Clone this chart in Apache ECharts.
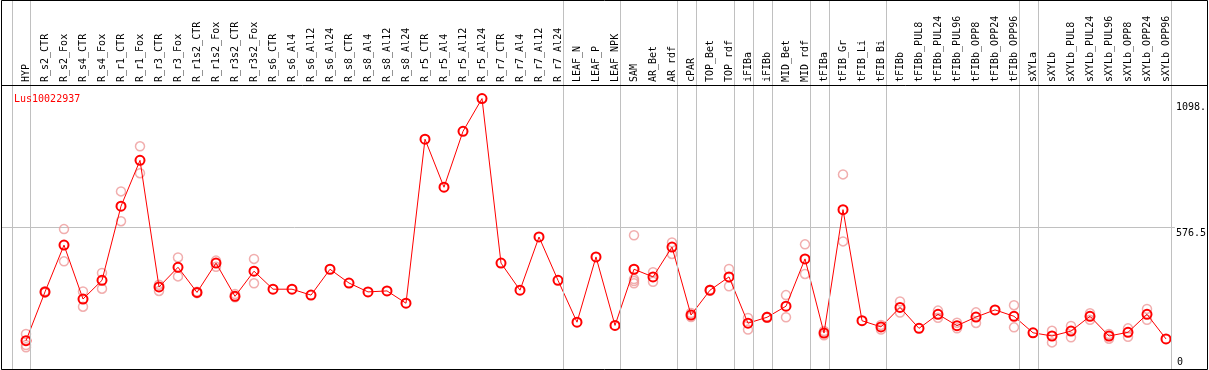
<!DOCTYPE html>
<html>
<head>
<meta charset="utf-8">
<script src="https://cdn.jsdelivr.net/npm/echarts@6/dist/echarts.min.js"></script>
<style>
html,body{margin:0;padding:0;background:#fff;}
#chart{width:1209px;height:370px;}
</style>
</head>
<body>
<div id="chart"></div>
<script>
const geneId = 'Lus10022937';
const categories = ['HYP','R_s2_CTR','R_s2_Fox','R_s4_CTR','R_s4_Fox','R_r1_CTR','R_r1_Fox','R_r3_CTR','R_r3_Fox','R_r1s2_CTR','R_r1s2_Fox','R_r3s2_CTR','R_r3s2_Fox','R_s6_CTR','R_s6_Al4','R_s6_Al12','R_s6_Al24','R_s8_CTR','R_s8_Al4','R_s8_Al12','R_s8_Al24','R_r5_CTR','R_r5_Al4','R_r5_Al12','R_r5_Al24','R_r7_CTR','R_r7_Al4','R_r7_Al12','R_r7_Al24','LEAF_N','LEAF_P','LEAF_NPK','SAM','AR_Bet','AR_rdf','cPAR','TOP_Bet','TOP_rdf','iFIBa','iFIBb','MID_Bet','MID_rdf','tFIBa','tFIB_Gr','tFIB_Li','tFIB_Bi','tFIBb','tFIBb_PUL8','tFIBb_PUL24','tFIBb_PUL96','tFIBb_OPP8','tFIBb_OPP24','tFIBb_OPP96','sXYLa','sXYLb','sXYLb_PUL8','sXYLb_PUL24','sXYLb_PUL96','sXYLb_OPP8','sXYLb_OPP24','sXYLb_OPP96'];
const means = [115,313,503,284,360,661,847,333,413,311,430,295,397,324,324,300,405,349,313,317,267,933,738,965,1098,430,320,536,360,190,455,177,405,374,495,219,320,374,186,210,255,447,146,647,196,171,250,165,222,176,211,240,214,147,134,154,214,134,149,222,122];
const replicates = [
  [142,97,88],[310,316],[568,437],[315,253],[390,326],[721,600],[904,795],[342,317],[453,376],[308,314],[440,415],[304,291],[447,348],
  [],[],[],[],[],[],[],[],[],[],[],[],[],[],[],[],[],[],[],
  [543,365,357,348],[393,354],[514,467],[227,211],[318,322],[406,336],[207,160],[208,212],[300,210],[506,386],[154,137],[790,518],[],[179,160],
  [274,229],[],[237,208],[188,165],[230,187],[],[259,169],[],[155,108],[175,129],[226,200],[123,142],[165,131],[244,200],[]
];
const groupEnds = [-1,0,28,31,34,35,37,38,39,41,42,45,52,53,60];
const yMax = 1153;
const yMid = 576.5;
const yPeakLabel = 1098;

const repData = [];
replicates.forEach((arr, i) => arr.forEach(v => repData.push([i, v])));

const FONT = 'DejaVu Sans Mono';
const chart = echarts.init(document.getElementById('chart'), null, {renderer: 'canvas'});
chart.setOption({
  animation: false,
  backgroundColor: '#fff',
  title: {
    text: geneId, left: 9, top: 89,
    textStyle: {color: '#ff0000', fontSize: 10, fontWeight: 'normal', fontFamily: FONT}
  },
  grid: [
    {left: 16.5, right: 33.5, top: 85, bottom: 1},
    {left: 0, right: 33.5, top: 0, bottom: 1},
    {left: 1, right: 30, top: 85, bottom: 1}
  ],
  xAxis: [
    {type: 'category', gridIndex: 0, data: categories, position: 'top',
     axisLine: {show: false}, axisTick: {show: false}, splitLine: {show: false},
     axisLabel: {interval: 0, rotate: 90, margin: 3, fontSize: 10, fontFamily: FONT, color: '#000'}},
    {type: 'value', gridIndex: 1, min: -26/19, max: 60.5, show: false},
    {type: 'value', gridIndex: 2, min: 0, max: 1, show: false}
  ],
  yAxis: [
    {type: 'value', gridIndex: 0, min: 0, max: yMax, show: false},
    {type: 'value', gridIndex: 1, min: 0, max: 1, show: false},
    {type: 'value', gridIndex: 2, min: 0, max: yMax, interval: yMid,
     axisLine: {show: false}, axisTick: {show: false}, axisLabel: {show: false},
     splitLine: {show: true, lineStyle: {color: '#c0c0c0', width: 1}}},
    {type: 'value', gridIndex: 2, min: 0, max: yMax, position: 'right',
     axisLine: {show: false}, axisTick: {show: false}, splitLine: {show: false},
     axisLabel: {customValues: [yMid, yPeakLabel], margin: 1, verticalAlign: 'top', align: 'left',
       fontSize: 10, fontFamily: FONT, color: '#000',
       formatter: v => v === yPeakLabel ? '{p|' + String(yPeakLabel) + '.}' : '{n|' + String(v) + '}',
       rich: {p: {padding: [4,0,0,0], fontSize: 10, fontFamily: FONT, color: '#000'},
              n: {padding: [1,0,0,0], fontSize: 10, fontFamily: FONT, color: '#000'}}}},
    {type: 'value', gridIndex: 2, min: 0, max: yMax, position: 'right',
     axisLine: {show: false}, axisTick: {show: false}, splitLine: {show: false},
     axisLabel: {customValues: [0], margin: 2, verticalAlign: 'bottom', align: 'left',
       fontSize: 10, fontFamily: FONT, color: '#000', padding: [0,0,2,0]}}
  ],
  series: [
    {type: 'line', xAxisIndex: 1, yAxisIndex: 1, data: [[-5, -5]], symbol: 'none', silent: true,
     lineStyle: {width: 0},
     markLine: {symbol: 'none', silent: true, label: {show: false},
       lineStyle: {color: '#c0c0c0', width: 1, type: 'solid'},
       data: groupEnds.map(i => ({xAxis: i + 0.25}))}},
    {type: 'scatter', xAxisIndex: 0, yAxisIndex: 0, data: repData, symbol: 'circle', symbolSize: 9,
     itemStyle: {color: 'rgba(0,0,0,0)', borderColor: '#ee9a9a', borderWidth: 1.5}, z: 3},
    {type: 'line', xAxisIndex: 0, yAxisIndex: 0, data: means, symbol: 'circle', symbolSize: 9,
     lineStyle: {color: '#ff0000', width: 1},
     itemStyle: {color: 'rgba(0,0,0,0)', borderColor: '#ff0000', borderWidth: 2}, z: 4}
  ],
  graphic: [
    {type: 'rect', z: 100, shape: {x: 1.5, y: 0.5, width: 1206, height: 369},
     style: {fill: null, stroke: '#000', lineWidth: 1}},
    {type: 'line', z: 100, shape: {x1: 1, y1: 85.5, x2: 1207, y2: 85.5},
     style: {stroke: '#000', lineWidth: 1}}
  ]
});
</script>
</body>
</html>
